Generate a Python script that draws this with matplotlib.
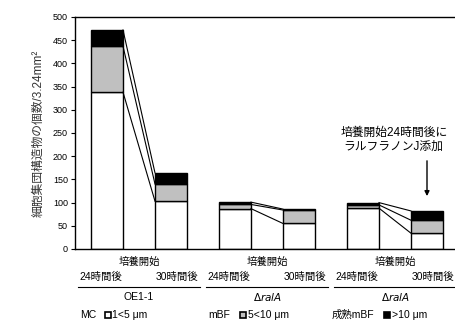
import matplotlib
matplotlib.use("Agg")
import matplotlib.pyplot as plt
from matplotlib.lines import Line2D
import numpy as np

plt.rcParams['font.family'] = ['Liberation Sans', 'Noto Sans CJK JP', 'DejaVu Sans']

# stacked values per bar: 1<5 um (MC), 5<10 um (mBF), >10 um (mature mBF)
time_labels = ['24時間後', '30時間後'] * 3
group_titles = ['培養開始', '培養開始', '培養開始']
group_names = ['OE1-1', r'$\Delta$$\it{ralA}$', r'$\Delta$$\it{ralA}$']
mc = [338, 103, 87, 55, 88, 34]
mbf = [99, 37, 9, 29, 7, 28]
mature = [35, 24, 5, 2, 5, 20]

fig = plt.figure(figsize=(4.56, 3.23), dpi=100)
ax = fig.add_axes([75 / 456, 74 / 323, 384 / 456, 232 / 323])

x = np.arange(len(mc))
w = 0.5
mc = np.array(mc)
mbf = np.array(mbf)
mature = np.array(mature)
ax.bar(x, mc, w, color='white', edgecolor='black', linewidth=1.0)
ax.bar(x, mbf, w, bottom=mc, color='#c0c0c0', edgecolor='black', linewidth=1.0)
ax.bar(x, mature, w, bottom=mc + mbf, color='black', edgecolor='black', linewidth=1.0)

# connecting lines between 24h and 30h bars of each group
levels = [mc, mc + mbf, mc + mbf + mature]
for g in range(3):
    i, j = 2 * g, 2 * g + 1
    for lv in levels:
        ax.plot([x[i] + w / 2, x[j] - w / 2], [lv[i], lv[j]], color='black', lw=0.8)

ax.set_xlim(-0.5, 5.5)
ax.set_ylim(0, 500)
ax.set_yticks(np.arange(0, 501, 50))
ax.tick_params(axis='y', labelsize=6.5, length=3, width=0.8, direction='out', pad=2)
ax.set_xticks([])
for s in ax.spines.values():
    s.set_linewidth(1.0)
ax.set_ylabel('細胞集団構造物の個数/3.24mm²', fontsize=8.5, labelpad=6, color='#333333')

# group labels below axis
for g in range(3):
    cx = (x[2 * g] + x[2 * g + 1]) / 2
    ax.text(cx, -28, group_titles[g], ha='center', va='center', fontsize=7.5, clip_on=False)
    ax.text(cx - 0.6, -60, time_labels[2 * g], ha='center', va='center',
            fontsize=7.5, clip_on=False)
    ax.text(cx + 0.6, -60, time_labels[2 * g + 1], ha='center', va='center',
            fontsize=7.5, clip_on=False)
    ax.plot([cx - 0.95, cx + 0.95], [-82, -82], color='black', lw=0.8, clip_on=False)
    ax.text(cx, -103, group_names[g], ha='center', va='center', fontsize=7.5, clip_on=False)

# annotation for ralfuranone J addition
ax.text(4.48, 235, '培養開始24時間後に\nラルフラノンJ添加', ha='center', va='center',
        fontsize=8.5, linespacing=1.15)
ax.annotate('', xy=(x[5], 108), xytext=(x[5], 196),
            arrowprops=dict(arrowstyle='-|>', color='black', lw=1.0, mutation_scale=7))

# legend row
ly = 1 - 315 / 323
fig.text(80 / 456, ly, 'MC', ha='left', va='center', fontsize=7.5)
fig.text(112 / 456, ly, '1<5 μm', ha='left', va='center', fontsize=7.5)
fig.text(208 / 456, ly, 'mBF', ha='left', va='center', fontsize=7.5)
fig.text(248 / 456, ly, '5<10 μm', ha='left', va='center', fontsize=7.5)
fig.text(332 / 456, ly, '成熟mBF', ha='left', va='center', fontsize=7.5)
fig.text(392 / 456, ly, '>10 μm', ha='left', va='center', fontsize=7.5)
for px, fc in [(108, 'white'), (243, '#c0c0c0'), (387, 'black')]:
    fig.add_artist(Line2D([px / 456], [ly], marker='s', markersize=5, markerfacecolor=fc,
                          markeredgecolor='black', markeredgewidth=1.2, transform=fig.transFigure))

fig.savefig('out.png', dpi=100)
